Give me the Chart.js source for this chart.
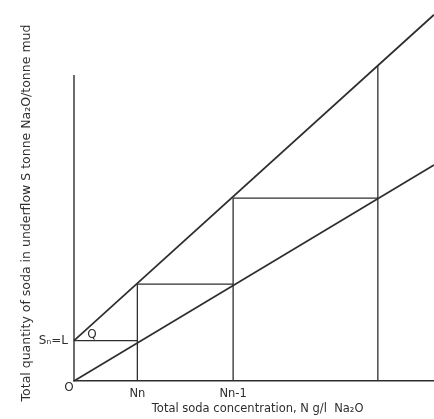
<!DOCTYPE html>
<html>
<head>
<meta charset="utf-8">
<script src="https://cdn.jsdelivr.net/npm/chart.js@4.4.1/dist/chart.umd.min.js"></script>
<style>
  html, body { margin: 0; padding: 0; background: #fff; }
  #wrap { width: 434px; height: 419px; position: relative; }
</style>
</head>
<body>
<div id="wrap"><canvas id="chart"></canvas></div>
<script>
// Operating lines (N and S in arbitrary units)
const lineN = [0, 100]
const upperS = [11.2, 101.7]   // S = L + Q*N
const lowerS = [0, 60]         // equilibrium line through origin
const sL = 11.2                // S_n = L

// Stage construction
const stageN = [17.6, 44.2, 84.4]
const stageS = [26.9, 50.8, 87.6]
const stageLabels = ['Nn', 'Nn-1']

const yAxisTop = 85
const ink = '#2e2e2e'

function line(points, width) {
  return {
    data: points,
    showLine: true,
    borderColor: ink,
    borderWidth: width,
    pointRadius: 0,
    clip: false
  }
}

const datasets = []
datasets.push(line(lineN.map((n, i) => ({ x: n, y: upperS[i] })), 1.7))
datasets.push(line(lineN.map((n, i) => ({ x: n, y: lowerS[i] })), 1.7))
// drawn y axis (stops short of the top)
datasets.push(line([{ x: 0, y: 0 }, { x: 0, y: yAxisTop }], 1.4))

// steps: horizontal then vertical for each stage
let prevN = 0
let prevS = sL
stageN.forEach((n, i) => {
  datasets.push(line([{ x: prevN, y: prevS }, { x: n, y: prevS }], 1.3))
  datasets.push(line([{ x: n, y: 0 }, { x: n, y: stageS[i] }], 1.3))
  prevN = n
  prevS = stageS[i]
})

// loose letters on the plot
const letters = {
  id: 'letters',
  afterDatasetsDraw(chart) {
    const { ctx, scales: { x, y } } = chart
    ctx.save()
    ctx.fillStyle = ink
    ctx.font = '12px "DejaVu Sans"'
    ctx.textAlign = 'center'
    ctx.textBaseline = 'middle'
    ctx.fillText('O', x.getPixelForValue(0) - 5, y.getPixelForValue(0) + 7)
    ctx.fillText('Q', x.getPixelForValue(5), y.getPixelForValue(sL) - 6)
    ctx.restore()
  }
}

new Chart(document.getElementById('chart'), {
  type: 'scatter',
  data: { datasets: datasets },
  plugins: [letters],
  options: {
    responsive: true,
    maintainAspectRatio: false,
    animation: false,
    layout: { padding: { top: 45, left: 0, right: 0, bottom: 0 } },
    plugins: {
      legend: { display: false },
      tooltip: { enabled: false }
    },
    scales: {
      x: {
        type: 'linear',
        min: 0,
        max: 100,
        afterFit: (scale) => { scale.height = 38 },
        afterBuildTicks: (scale) => {
          scale.ticks = stageLabels.map((l, i) => ({ value: stageN[i] }))
        },
        grid: { display: false, drawTicks: false },
        border: { display: true, color: ink, width: 1.5 },
        ticks: {
          color: ink,
          padding: 6,
          autoSkip: false,
          maxRotation: 0,
          font: { family: 'DejaVu Sans', size: 11.5 },
          callback: (v, i) => stageLabels[i]
        },
        title: {
          display: true,
          text: '  Total soda concentration, N g/l  Na\u2082O',
          color: ink,
          font: { family: 'DejaVu Sans', size: 11.5 },
          padding: { top: 0, bottom: 3 }
        }
      },
      y: {
        type: 'linear',
        min: 0,
        max: 93.3,
        afterFit: (scale) => { scale.width = 74 },
        afterBuildTicks: (scale) => {
          scale.ticks = [{ value: sL }]
        },
        grid: { display: false, drawTicks: false },
        border: { display: false },
        ticks: {
          color: ink,
          padding: 6,
          font: { family: 'DejaVu Sans', size: 12 },
          callback: () => 'S\u2099=L'
        },
        title: {
          display: true,
          text: 'Total quantity of soda in underflow S tonne Na\u2082O/tonne mud',
          color: ink,
          font: { family: 'DejaVu Sans', size: 12.5 },
          padding: { top: 19, bottom: 0 }
        }
      }
    }
  }
})
</script>
</body>
</html>
